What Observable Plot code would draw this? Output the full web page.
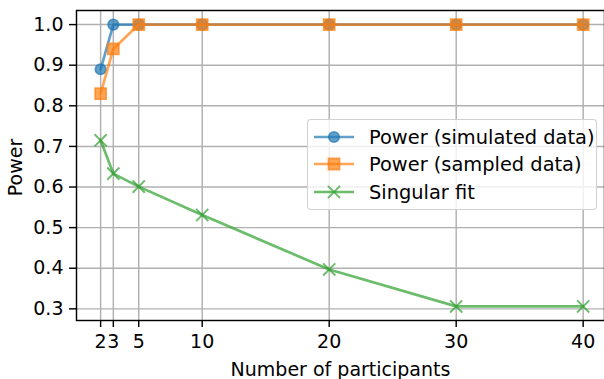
<!DOCTYPE html>
<html>
<head>
<meta charset="utf-8">
<script src="https://cdn.jsdelivr.net/npm/d3@7"></script>
<script src="https://cdn.jsdelivr.net/npm/@observablehq/plot@0.6"></script>
<style>
  body { margin: 0; background: #fff; font-family: "DejaVu Sans", sans-serif; }
  #wrap { position: relative; width: 604px; height: 379px; overflow: hidden; }
  .legend {
    position: absolute; left: 307px; top: 119px; width: 290px; height: 91px;
    box-sizing: border-box; border: 1.5px solid rgba(204,204,204,0.9); border-radius: 4px;
    background: rgba(255,255,255,0.8); font-size: 19.4px; color: #000;
  }
  .row { position: absolute; left: 6px; height: 28px; display: flex; align-items: center; white-space: nowrap; }
  .row svg { display: block; margin-right: 13px; }
</style>
</head>
<body>
<div id="wrap"></div>
<script>
const participants = [2, 3, 5, 10, 20, 30, 40];
const powerSimulated = [0.89, 1.0, 1.0, 1.0, 1.0, 1.0, 1.0];
const powerSampled = [0.83, 0.94, 1.0, 1.0, 1.0, 1.0, 1.0];
const singularFit = [0.715, 0.633, 0.601, 0.531, 0.397, 0.306, 0.306];
const seriesNames = ["Power (simulated data)", "Power (sampled data)", "Singular fit"];
const seriesColors = ["#1f77b4", "#ff7f0e", "#2ca02c"];
const seriesSymbols = ["circle", "square", "times"];
const xTicks = [2, 3, 5, 10, 20, 30, 40];
const yTicks = [0.3, 0.4, 0.5, 0.6, 0.7, 0.8, 0.9, 1.0];
const xLabel = "Number of participants";
const yLabel = "Power";

const seriesValues = [powerSimulated, powerSampled, singularFit];
const seriesData = seriesValues.map((vals, s) =>
  participants.map((p, i) => ({x: p, y: vals[i], series: seriesNames[s]}))
);
const symbolR = {circle: 5.3, square: 6.3, times: 5.6};

const marks = [
  Plot.ruleX(xTicks, {stroke: "#b0b0b0", strokeWidth: 1.44}),
  Plot.ruleY(yTicks, {stroke: "#b0b0b0", strokeWidth: 1.44})
];
seriesData.forEach((data, s) => {
  const c = seriesColors[s];
  marks.push(Plot.line(data, {x: "x", y: "y", stroke: c, strokeWidth: 2.7, strokeOpacity: 0.7}));
  if (seriesSymbols[s] === "times") {
    marks.push(Plot.dot(data, {x: "x", y: "y", symbol: "times", r: symbolR.times, stroke: c, strokeWidth: 1.9, strokeOpacity: 0.7}));
  } else {
    marks.push(Plot.dot(data, {x: "x", y: "y", symbol: seriesSymbols[s], r: symbolR[seriesSymbols[s]],
      fill: c, fillOpacity: 0.7, stroke: c, strokeOpacity: 0.7, strokeWidth: 1.6}));
  }
});
marks.push(
  Plot.frame({stroke: "#000", strokeWidth: 1.44}),
  Plot.axisX({ticks: xTicks, tickFormat: d => String(d), tickSize: 7, tickPadding: 7, strokeWidth: 1.44, fontSize: 19, label: null}),
  Plot.axisY({ticks: yTicks, tickFormat: d3.format(".1f"), tickSize: 7, tickPadding: 6, strokeWidth: 1.44, fontSize: 19, label: null}),
  Plot.text([xLabel], {frameAnchor: "bottom", dy: 49, fontSize: 19, textAnchor: "middle", lineAnchor: "middle", fill: "#000"}),
  Plot.text([yLabel], {frameAnchor: "left", dx: -61, dy: 2, rotate: -90, fontSize: 19, textAnchor: "middle", lineAnchor: "middle", fill: "#000"})
);

const chart = Plot.plot({
  width: 604,
  height: 379,
  marginLeft: 76, marginTop: 10, marginBottom: 59, marginRight: 0,
  x: {domain: [0.1, 41.9], range: [76, 606.8]},
  y: {domain: [0.2713, 1.0347], range: [320, 10]},
  style: {fontFamily: "DejaVu Sans", fontSize: "19px", color: "#000", background: "#fff", overflow: "hidden"},
  marks
});
const wrap = document.getElementById("wrap");
wrap.appendChild(chart);

// Legend
const legend = document.createElement("div");
legend.className = "legend";
const rowTops = [3, 30, 58];
seriesNames.forEach((name, s) => {
  const row = document.createElement("div");
  row.className = "row";
  row.style.top = rowTops[s] + "px";
  const c = seriesColors[s];
  const sym = seriesSymbols[s];
  const svg = d3.create("svg").attr("width", 42).attr("height", 28);
  svg.append("line").attr("x1", 0).attr("x2", 40).attr("y1", 14).attr("y2", 14)
    .attr("stroke", c).attr("stroke-width", 2.7).attr("stroke-opacity", 0.7);
  const r = symbolR[sym];
  const path = d3.symbol(d3["symbol" + sym[0].toUpperCase() + sym.slice(1)], Math.PI * r * r)();
  const p = svg.append("path").attr("d", path).attr("transform", "translate(20,14)");
  if (sym === "times") p.attr("fill", "none").attr("stroke", c).attr("stroke-width", 1.9).attr("stroke-opacity", 0.7);
  else p.attr("fill", c).attr("fill-opacity", 0.7).attr("stroke", c).attr("stroke-opacity", 0.7).attr("stroke-width", 1.6);
  row.appendChild(svg.node());
  const span = document.createElement("span");
  span.textContent = name;
  row.appendChild(span);
  legend.appendChild(row);
});
wrap.appendChild(legend);
</script>
</body>
</html>
